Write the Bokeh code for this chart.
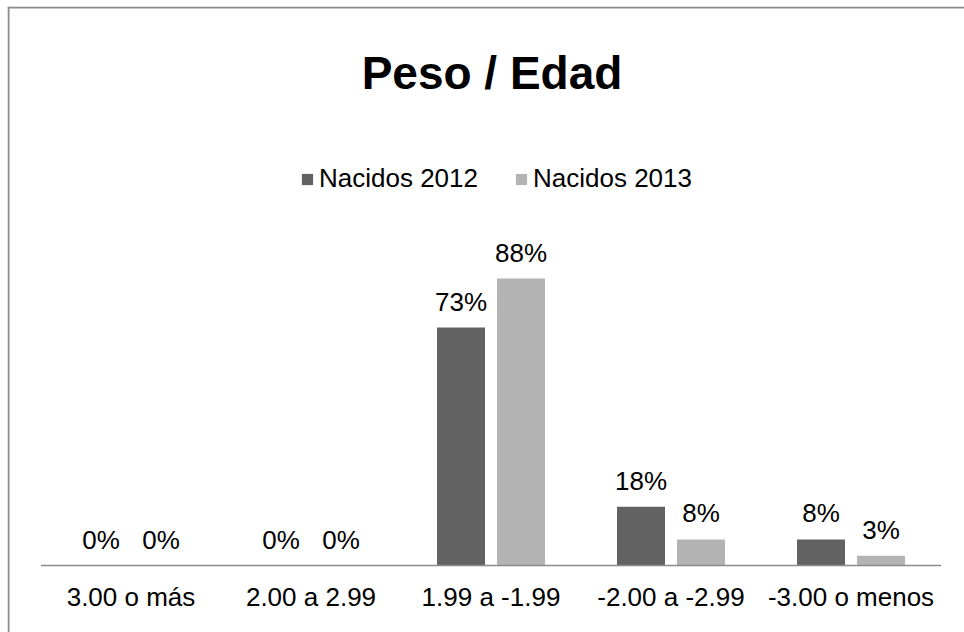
from bokeh.plotting import figure
from bokeh.models import ColumnDataSource, Range1d, Span, Label, LabelSet, Legend, LegendItem
from bokeh.core.properties import value
from bokeh.embed import file_html
from bokeh.resources import INLINE

# ---- data ----
categories = ["3.00 o más", "2.00 a 2.99", "1.99 a -1.99", "-2.00 a -2.99", "-3.00 o menos"]
series_names = ["Nacidos 2012", "Nacidos 2013"]
nacidos_2012 = [0, 0, 73, 18, 8]
nacidos_2013 = [0, 0, 88, 8, 3]
title_text = "Peso / Edad"

# ---- styles / layout ----
FONT = "Liberation Sans"
DARK = "#626262"
LIGHT = "#b3b3b3"
AXIS_C = "#8a8a8a"
BORDER_C = "#8c8c8c"
W, H = 964, 632
FL, FT = 7, 6            # frame left / top (canvas px)
AX_L, CAT_W = 40.5, 180  # canvas x of category axis start, px per category
AX_Y, PX_PER = 565, 3.26 # canvas y of baseline, px per percent

x_start = (FL - AX_L) / CAT_W
x_end = (W - AX_L) / CAT_W
y_start = -(H - AX_Y) / PX_PER
y_end = (AX_Y - FT) / PX_PER

off = 30 / CAT_W
bw = 48 / CAT_W

pos = [i + 0.5 for i in range(len(categories))]
src = ColumnDataSource(dict(
    x=pos,
    xa=[v - off for v in pos],
    xb=[v + off for v in pos],
    cat=categories,
    a=nacidos_2012,
    b=nacidos_2013,
    la=[f"{v}%" for v in nacidos_2012],
    lb=[f"{v}%" for v in nacidos_2013],
))

p = figure(width=W, height=H,
           x_range=Range1d(x_start, x_end), y_range=Range1d(y_start, y_end),
           output_backend="svg", toolbar_location=None,
           x_axis_location=None, y_axis_location=None,
           min_border_left=FL, min_border_top=FT, min_border_right=0, min_border_bottom=0)
p.grid.visible = False
p.outline_line_color = None
p.background_fill_color = "white"
p.border_fill_color = "white"

r1 = p.vbar(x="xa", top="a", bottom=0, width=bw, source=src, fill_color=DARK, line_color=None)
r2 = p.vbar(x="xb", top="b", bottom=0, width=bw, source=src, fill_color=LIGHT, line_color=None)

# baseline (category axis line)
p.segment(x0=[0], x1=[len(categories)], y0=[0], y1=[0], line_color=AXIS_C, line_width=1.5)

# data labels
for xcol, ycol, tcol in (("xa", "a", "la"), ("xb", "b", "lb")):
    p.add_layout(LabelSet(x=xcol, y=ycol, text=tcol, source=src, y_offset=17,
                          text_align="center", text_baseline="alphabetic",
                          text_font=value(FONT), text_font_size="26px", text_color="black"))

# category labels
p.add_layout(LabelSet(x="x", y=0, text="cat", source=src, y_offset=-40,
                      text_align="center", text_baseline="alphabetic",
                      text_font=value(FONT), text_font_size="26px", text_color="black"))

# title
p.add_layout(Label(x=491.5 - FL, y=(H - FT) - (72 - FT), x_units="screen", y_units="screen",
                   text=title_text, text_align="center", text_baseline="alphabetic",
                   text_font=FONT, text_font_size="46px", text_font_style="bold",
                   text_color="black"))

# legend
legend = Legend(items=[LegendItem(label=series_names[0], renderers=[r1]),
                       LegendItem(label=series_names[1], renderers=[r2])],
                orientation="horizontal", location=(300 - FL, (H - FT) - (194 - FT)),
                glyph_width=14, glyph_height=14, label_standoff=5, spacing=36,
                padding=0, margin=0, border_line_color=None, background_fill_alpha=0,
                label_text_font=FONT, label_text_font_size="26px", label_text_color="black")
p.add_layout(legend)

# chart-area border (top and left visible)
p.add_layout(Span(location=1, location_units="screen", dimension="height",
                  line_color=BORDER_C, line_width=2))
p.add_layout(Span(location=(H - FT) - 1, location_units="screen", dimension="width",
                  line_color=BORDER_C, line_width=2))

open("out.html", "w").write(file_html(p, INLINE))
